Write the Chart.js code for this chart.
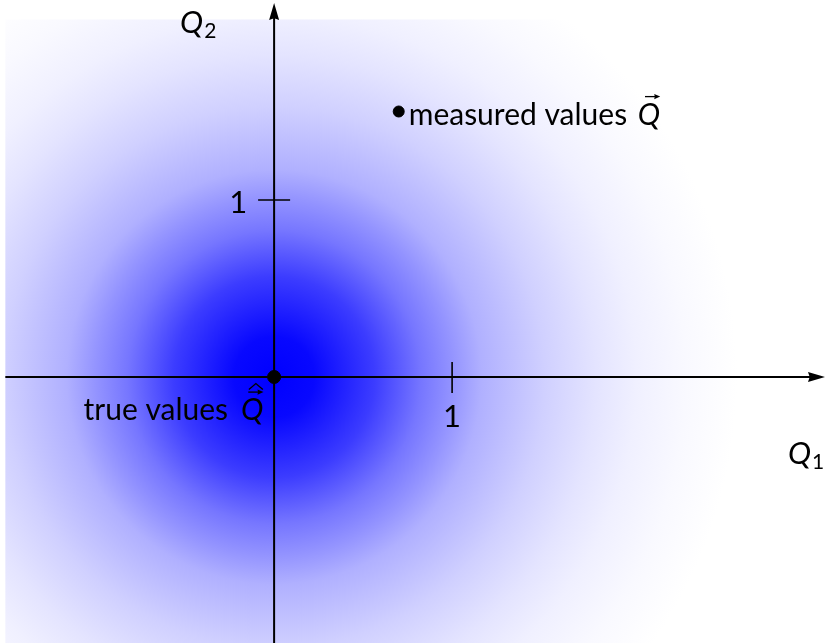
<!DOCTYPE html>
<html>
<head>
<meta charset="utf-8">
<script src="https://cdn.jsdelivr.net/npm/chart.js@4"></script>
<style>
  html, body { margin: 0; padding: 0; background: #fff; }
</style>
</head>
<body>
<canvas id="chart" width="825" height="643"></canvas>
<script>
// points in the (Q1, Q2) plane
const pointNames = ['true values', 'measured values'];
const q1Values = [0, 0.70];
const q2Values = [0, 1.50];

// one tick on each axis
const q1Ticks = [1];
const q2Ticks = [1];
const q1TickLabels = ['1'];
const q2TickLabels = ['1'];

// visible window of the plane
const q1Range = [-1.54, 3.095];
const q2Range = [-1.503, 2.13];

// blue -> white radial shade (fraction of radius, grey level of r/g)
const shadeStops = [0, 0.087, 0.217, 0.317, 0.387, 0.448, 0.585, 0.696, 0.783, 0.89, 1];
const shadeLevels = [0, 8, 60, 118, 148, 176, 208, 228, 240, 249, 255];

const FONT = 'Lato, "Open Sans", sans-serif';
const SIZE = 31;
const LABEL_SIZE = 30;

//arrow head with its tip at (x, y), pointing along (dx, dy)
const arrowHead = (ctx, x, y, dx, dy, len, half) => {
  const px = -dy, py = dx;
  ctx.beginPath();
  ctx.moveTo(x, y);
  ctx.lineTo(x - dx * len + px * half, y - dy * len + py * half);
  ctx.lineTo(x - dx * len * 0.9, y - dy * len * 0.9);
  ctx.lineTo(x - dx * len - px * half, y - dy * len - py * half);
  ctx.closePath();
  ctx.fill();
};

/**
 * italic Q with optional subscript, vector arrow and hat
 */
const drawQ = (ctx, x, baseline, size, opts = {}) => {
  ctx.font = `italic ${size}px ${FONT}`;
  ctx.textAlign = 'left';
  ctx.fillText('Q', x, baseline);
  const w = ctx.measureText('Q').width;
  if (opts.sub) {
    ctx.font = `${Math.round(size * 0.68)}px ${FONT}`;
    ctx.fillText(opts.sub, x + w + 1, baseline + size * 0.17);
  }
  if (opts.vec) {
    const ay = baseline - size * 0.93;
    const x0 = x + w * 0.32, x1 = x + w * 1.0;
    ctx.lineWidth = 1.3;
    ctx.beginPath();
    ctx.moveTo(x0, ay);
    ctx.lineTo(x1 - 3, ay);
    ctx.stroke();
    arrowHead(ctx, x1, ay, 1, 0, 6, 2.6);
    if (opts.hat) {
      const hx = (x0 + x1) / 2, hy = ay - size * 0.22;
      ctx.beginPath();
      ctx.moveTo(hx - 7, hy + 4);
      ctx.lineTo(hx, hy - 2);
      ctx.lineTo(hx + 7, hy + 4);
      ctx.stroke();
    }
  }
};

const planePlugin = {
  id: 'plane',
  beforeDatasetsDraw(chart) {
    const { ctx, scales: { x, y } } = chart;
    const cx = x.getPixelForValue(0);
    const cy = y.getPixelForValue(0);
    const unit = x.getPixelForValue(1) - cx;

    // shaded spread around the true values
    ctx.save();
    const r = 2.6 * unit;
    const g = ctx.createRadialGradient(cx, cy, 0, cx, cy, r);
    shadeStops.forEach((s, i) => {
      const v = shadeLevels[i];
      g.addColorStop(s, `rgb(${v},${v},255)`);
    });
    ctx.fillStyle = g;
    const left = x.getPixelForValue(-1.51);
    const right = x.getPixelForValue(2.7);
    const top = y.getPixelForValue(2.02);
    const bottom = y.getPixelForValue(-1.51);
    ctx.fillRect(left, top, right - left, bottom - top);

    // axes
    ctx.strokeStyle = '#000';
    ctx.fillStyle = '#000';
    ctx.lineWidth = 2;
    const xStart = x.getPixelForValue(-1.51);
    const xEnd = chart.width;
    ctx.beginPath();
    ctx.moveTo(xStart, cy);
    ctx.lineTo(xEnd - 8, cy);
    ctx.moveTo(cx, chart.height);
    ctx.lineTo(cx, 12);
    ctx.stroke();
    arrowHead(ctx, xEnd, cy, 1, 0, 17, 5);
    arrowHead(ctx, cx, 3, 0, -1, 17, 5);

    // ticks and their labels
    ctx.font = `${SIZE}px ${FONT}`;
    ctx.lineWidth = 1.6;
    q1Ticks.forEach((t, i) => {
      const px = x.getPixelForValue(t);
      ctx.beginPath();
      ctx.moveTo(px, cy - 15);
      ctx.lineTo(px, cy + 16);
      ctx.stroke();
      ctx.textAlign = 'center';
      ctx.textBaseline = 'alphabetic';
      ctx.fillText(q1TickLabels[i], px, cy + 50);
    });
    q2Ticks.forEach((t, i) => {
      const py = y.getPixelForValue(t);
      ctx.beginPath();
      ctx.moveTo(cx - 16, py);
      ctx.lineTo(cx + 16, py);
      ctx.stroke();
      ctx.textAlign = 'right';
      ctx.fillText(q2TickLabels[i], cx - 27, py + 13);
    });

    // axis names
    drawQ(ctx, x.getPixelForValue(3.1) - 38, cy + 87, SIZE, { sub: '1' });
    drawQ(ctx, cx - 94, 33, SIZE, { sub: '2' });
    ctx.restore();
  },
  afterDatasetsDraw(chart) {
    const { ctx, scales: { x, y } } = chart;
    ctx.save();
    ctx.fillStyle = '#000';
    ctx.strokeStyle = '#000';
    ctx.textBaseline = 'alphabetic';
    // true values, under and left of the origin
    const tx = x.getPixelForValue(q1Values[0]);
    const ty = y.getPixelForValue(q2Values[0]);
    ctx.font = `${LABEL_SIZE}px ${FONT}`;
    ctx.textAlign = 'right';
    ctx.fillText(pointNames[0], tx - 46, ty + 43);
    drawQ(ctx, tx - 33, ty + 43, LABEL_SIZE, { vec: true, hat: true });
    // measured values, right of its point
    const mx = x.getPixelForValue(q1Values[1]);
    const my = y.getPixelForValue(q2Values[1]);
    ctx.font = `${LABEL_SIZE}px ${FONT}`;
    ctx.textAlign = 'left';
    ctx.fillText(pointNames[1], mx + 10, my + 13);
    const w = ctx.measureText(pointNames[1] + ' ').width;
    drawQ(ctx, mx + 10 + w + 3, my + 13, LABEL_SIZE, { vec: true });
    ctx.restore();
  },
};

const points = q1Values.map((v, i) => ({ x: v, y: q2Values[i] }));

new Chart(document.getElementById('chart'), {
  type: 'scatter',
  data: {
    datasets: [
      {
        label: 'values',
        data: points,
        backgroundColor: '#000',
        borderColor: '#000',
        pointRadius: [6.5, 5.5],
        pointHoverRadius: [6.5, 5.5],
      },
    ],
  },
  options: {
    responsive: false,
    animation: false,
    layout: { autoPadding: false, padding: 0 },
    scales: {
      x: { type: 'linear', min: q1Range[0], max: q1Range[1], display: false },
      y: { type: 'linear', min: q2Range[0], max: q2Range[1], display: false },
    },
    plugins: {
      legend: { display: false },
      tooltip: { enabled: false },
    },
    events: [],
  },
  plugins: [planePlugin],
});
</script>
</body>
</html>
